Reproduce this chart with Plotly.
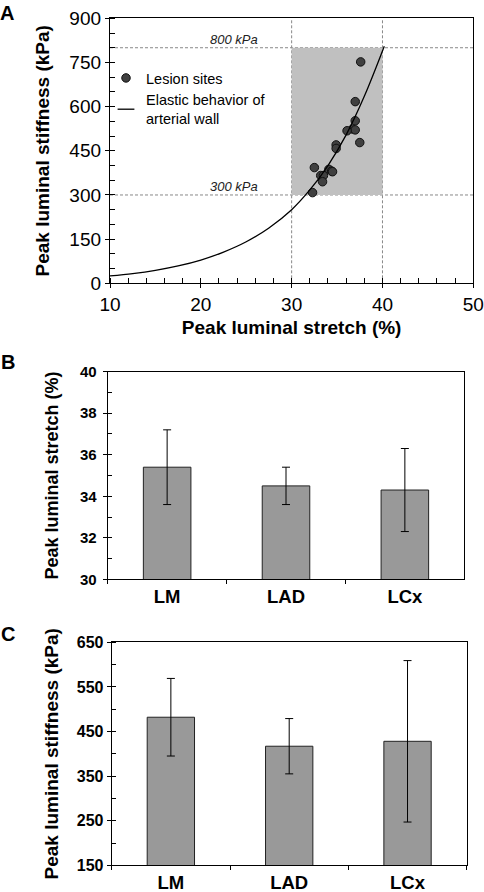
import plotly.graph_objects as go

# ---------------- data ----------------
# Panel A: lesion sites (stretch %, stiffness kPa)
lesion_stretch = [37.6, 37.0, 37.0, 36.7, 37.0, 36.1, 37.5, 34.9, 34.9, 32.5, 34.1, 34.4, 34.5, 33.2, 33.5, 33.4, 32.3]
lesion_stiffness = [752, 617, 552, 524, 521, 518, 478, 470, 458, 393, 387, 381, 379, 366, 366, 345, 308]
# Panel A: elastic behaviour curve
curve_stretch = [10, 12.5, 15, 17.5, 20, 22.5, 25, 27.5, 30, 32, 34, 36, 38, 40.2]
curve_stiffness = [25, 33, 44, 59, 79, 106, 141, 188, 250, 317, 400, 504, 635, 805]
threshold_stretch = [30, 40]
threshold_stiffness = [300, 800]

# Panels B & C
categories = ["LM", "LAD", "LCx"]
stretch_mean = [35.4, 34.5, 34.3]
stretch_err = [1.8, 0.9, 2.0]
stiff_mean = [482, 417, 428]
stiff_err = [87, 62, 181]

FONT = "Arial, Liberation Sans, sans-serif"
W, H = 484, 892

def px_x(p):
    return p / W

def px_y(p):
    return 1 - p / H

fig = go.Figure()

# ---------- Panel A ----------
fig.add_trace(go.Scatter(
    x=lesion_stretch, y=lesion_stiffness, mode="markers", name="Lesion sites",
    marker=dict(color="#404040", size=8.5, line=dict(color="#111111", width=1)),
    xaxis="x", yaxis="y"))
fig.add_trace(go.Scatter(
    x=curve_stretch, y=curve_stiffness, mode="lines", showlegend=False,
    line=dict(color="black", width=1.3, shape="spline"),
    xaxis="x", yaxis="y"))
# legend entry with a short line symbol, as in the reference
fig.add_trace(go.Scatter(
    x=[None], y=[None], mode="markers",
    name="Elastic behavior of<br>arterial wall",
    marker=dict(symbol="line-ew-open", size=12, color="black", line=dict(color="black", width=1.3)),
    xaxis="x", yaxis="y"))

# ---------- Panel B ----------
fig.add_trace(go.Bar(
    x=categories, y=stretch_mean, showlegend=False,
    marker=dict(color="#999999", line=dict(color="#222222", width=1)),
    error_y=dict(type="data", array=stretch_err, color="black", thickness=1, width=4),
    xaxis="x2", yaxis="y2"))

# ---------- Panel C ----------
fig.add_trace(go.Bar(
    x=categories, y=stiff_mean, showlegend=False,
    marker=dict(color="#999999", line=dict(color="#222222", width=1)),
    error_y=dict(type="data", array=stiff_err, color="black", thickness=1, width=4),
    xaxis="x3", yaxis="y3"))

shapes = [
    dict(type="rect", xref="x", yref="y", x0=threshold_stretch[0], x1=threshold_stretch[1],
         y0=threshold_stiffness[0], y1=threshold_stiffness[1],
         fillcolor="#c0c0c0", line=dict(width=0), layer="below"),
]
for xv in threshold_stretch:
    shapes.append(dict(type="line", xref="x", yref="y domain", x0=xv, x1=xv, y0=0, y1=1,
                       line=dict(color="#888888", width=1, dash="3px,2px"), layer="below"))
for yv in threshold_stiffness:
    shapes.append(dict(type="line", xref="x domain", yref="y", x0=0, x1=1, y0=yv, y1=yv,
                       line=dict(color="#888888", width=1, dash="3px,2px"), layer="below"))

annotations = [
    dict(text="<i>800 kPa</i>", x=23.6, y=threshold_stiffness[1], xref="x", yref="y",
         yanchor="bottom", showarrow=False, yshift=-1, font=dict(family=FONT, size=13, color="#222")),
    dict(text="<i>300 kPa</i>", x=23.6, y=threshold_stiffness[0], xref="x", yref="y",
         yanchor="bottom", showarrow=False, yshift=-1, font=dict(family=FONT, size=13, color="#222")),
    dict(text="<b>A</b>", x=px_x(-2), y=px_y(0), xref="paper", yref="paper", xanchor="left",
         yanchor="top", showarrow=False, font=dict(family=FONT, size=20, color="black")),
    dict(text="<b>B</b>", x=px_x(-1), y=px_y(349), xref="paper", yref="paper", xanchor="left",
         yanchor="top", showarrow=False, font=dict(family=FONT, size=20, color="black")),
    dict(text="<b>C</b>", x=px_x(-1), y=px_y(621), xref="paper", yref="paper", xanchor="left",
         yanchor="top", showarrow=False, font=dict(family=FONT, size=20, color="black")),
]

axis_common = dict(showline=True, linecolor="black", linewidth=1, mirror=True,
                   showgrid=False, zeroline=False, automargin=False)
axis_a = {k: v for k, v in axis_common.items() if k != "linewidth"}

fig.update_layout(
    template="none",
    width=W, height=H, margin=dict(l=0, r=0, t=0, b=0, autoexpand=False),
    paper_bgcolor="white", plot_bgcolor="white",
    font=dict(family=FONT, color="black"),
    shapes=shapes, annotations=annotations,
    bargap=0.6,
    showlegend=True,
    legend=dict(x=px_x(106), y=px_y(62), xanchor="left", yanchor="top",
                bgcolor="rgba(0,0,0,0)", font=dict(family=FONT, size=14.5, color="black"),
                itemwidth=30, tracegroupgap=6),
    xaxis=dict(domain=[px_x(110), px_x(473.3)], range=[10, 50], dtick=10,
               ticks="outside", ticklen=4, tickcolor="black",
               minor=dict(dtick=2, ticks="inside", ticklen=5, tickcolor="black"),
               tickfont=dict(family=FONT, size=19),
               title=dict(text="<b>Peak luminal stretch (%)</b>", font=dict(family=FONT, size=19), standoff=6),
               anchor="y", linewidth=1.3, **axis_a),
    yaxis=dict(domain=[px_y(283.3), px_y(18.3)], range=[0, 900], dtick=150,
               ticks="outside", ticklen=4, tickcolor="black",
               minor=dict(dtick=50, ticks="inside", ticklen=5, tickcolor="black"),
               tickfont=dict(family=FONT, size=19),
               title=dict(text="<b>Peak luminal stiffness (kPa)</b>", font=dict(family=FONT, size=19), standoff=14),
               anchor="x", linewidth=1.3, **axis_a),
    xaxis2=dict(domain=[px_x(107.7), px_x(464.3)], type="category",
                ticks="outside", tickson="boundaries", ticklen=4, tickcolor="black",
                tickfont=dict(family=FONT, size=18.5, weight="bold"),
                anchor="y2", **axis_common),
    yaxis2=dict(domain=[px_y(579.3), px_y(371.7)], range=[30, 40], dtick=2,
                ticks="outside", ticklen=4, tickcolor="black",
                minor=dict(dtick=1, ticks="inside", ticklen=4, tickcolor="black"),
                tickfont=dict(family=FONT, size=15, weight="bold"), ticklabelstandoff=3,
                title=dict(text="<b>Peak luminal stretch (%)</b>", font=dict(family=FONT, size=18), standoff=16),
                anchor="x2", **axis_common),
    xaxis3=dict(domain=[px_x(111.7), px_x(466.7)], type="category",
                ticks="outside", tickson="boundaries", ticklen=4, tickcolor="black",
                tickfont=dict(family=FONT, size=18.5, weight="bold"),
                anchor="y3", **axis_common),
    yaxis3=dict(domain=[px_y(865.3), px_y(642.3)], range=[150, 650], dtick=100, tick0=150,
                ticks="outside", ticklen=4, tickcolor="black",
                minor=dict(dtick=50, tick0=150, ticks="inside", ticklen=4, tickcolor="black"),
                tickfont=dict(family=FONT, size=16, weight="bold"),
                title=dict(text="<b>Peak luminal stiffness (kPa)</b>", font=dict(family=FONT, size=19), standoff=13),
                anchor="x3", **axis_common),
)

fig.write_html("out.html", config={"displayModeBar": False},
               post_script="document.body.style.margin='0';document.body.style.overflow='hidden';")
